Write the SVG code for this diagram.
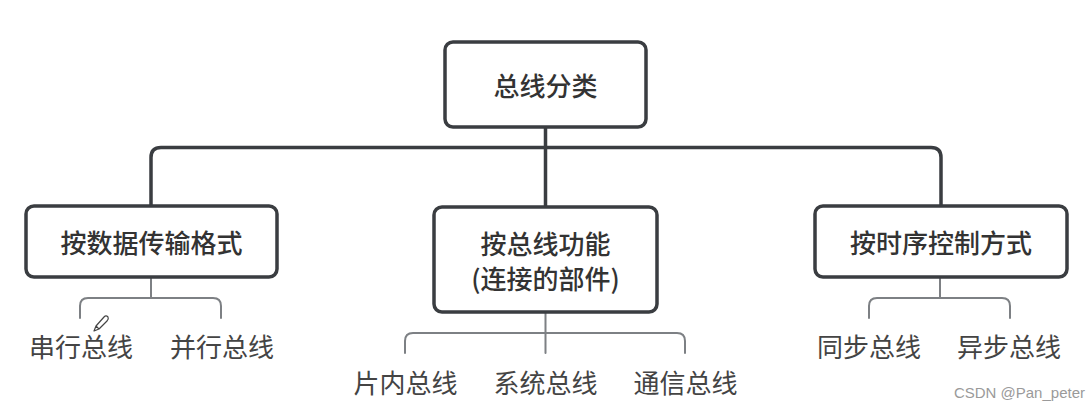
<svg xmlns="http://www.w3.org/2000/svg" width="1090" height="412" viewBox="0 0 1090 412">
<style>
.box{fill:#fff;stroke:#3a3d41;stroke-width:3.5}
.main{fill:none;stroke:#3a3d41;stroke-width:3.5;stroke-linecap:round;stroke-linejoin:round}
.sub{fill:none;stroke:#7d8084;stroke-width:2;stroke-linecap:round}
.bt{font-family:"Noto Sans CJK SC","Noto Sans",sans-serif;font-size:26px;font-weight:500;fill:#333;text-anchor:middle;dominant-baseline:central}
.st{font-family:"Noto Sans CJK SC","Noto Sans",sans-serif;font-size:26px;font-weight:400;fill:#444;text-anchor:middle;dominant-baseline:central}
.wm{font-family:"Liberation Sans",Arial,sans-serif;font-size:15px;fill:#9a9a9a;text-anchor:end}
</style>
<rect width="1090" height="412" fill="#fff"/>
<g id="connectors">
<path class="main" d="M545.5 127 V147.5 M151 206 V157.5 Q151 147.5 161 147.5 H931 Q941 147.5 941 157.5 V206 M545.5 147.5 V207"/>
<path class="sub" d="M151 277 V298 M80 318 V306 Q80 298 88 298 H213 Q221 298 221 306 V318"/>
<path class="sub" d="M545.5 312 V353 M405 353 V341 Q405 333 413 333 H677 Q685 333 685 341 V353"/>
<path class="sub" d="M940 277 V298 M869 318 V306 Q869 298 877 298 H1002 Q1010 298 1010 306 V318"/>
</g>
<g id="root">
<rect class="box" x="445" y="42" width="201" height="85" rx="8"/>
<text class="bt" x="545.5" y="84">总线分类</text>
</g>
<g id="by-format">
<rect class="box" x="26" y="206" width="251" height="71" rx="8"/>
<text class="bt" x="151.5" y="241.5">按数据传输格式</text>
</g>
<g id="by-function">
<rect class="box" x="434" y="207" width="223" height="105" rx="8"/>
<text class="bt" x="545.5" y="242">按总线功能</text>
<text class="bt" x="545.5" y="277">(连接的部件)</text>
</g>
<g id="by-timing">
<rect class="box" x="815" y="206" width="252" height="71" rx="8"/>
<text class="bt" x="941" y="241.5">按时序控制方式</text>
</g>
<g id="serial"><text class="st" x="81" y="345">串行总线</text></g>
<g id="parallel"><text class="st" x="222" y="345">并行总线</text></g>
<g id="onchip"><text class="st" x="405.5" y="381">片内总线</text></g>
<g id="system"><text class="st" x="545.5" y="381">系统总线</text></g>
<g id="comm"><text class="st" x="685.5" y="381">通信总线</text></g>
<g id="sync"><text class="st" x="869" y="345">同步总线</text></g>
<g id="async"><text class="st" x="1009" y="345">异步总线</text></g>
<g id="pencil" fill="none" stroke="#444" stroke-width="1.2" stroke-linejoin="round">
<path d="M94 331 L96 326 L104 317 Q106 315 108 317 Q109 319 107 321 L99 329 Z M96 326 L99 329"/>
</g>
<text class="wm" x="1085" y="398">CSDN @Pan_peter</text>
</svg>
